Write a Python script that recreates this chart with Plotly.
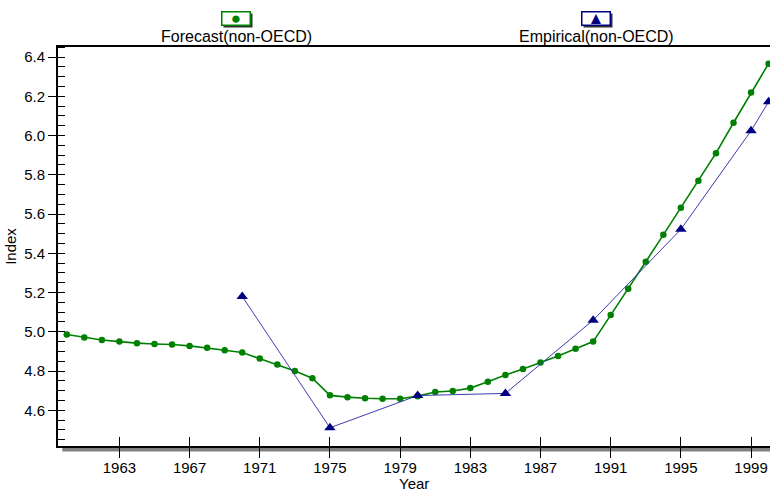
import plotly.graph_objects as go

# ---- data ----
forecast_years = list(range(1960, 2001))
forecast_values = [4.986, 4.971, 4.958, 4.950, 4.942, 4.938, 4.935, 4.928, 4.918, 4.906,
                   4.894, 4.864, 4.833, 4.800, 4.763, 4.676, 4.667, 4.661, 4.659, 4.659,
                   4.672, 4.693, 4.698, 4.713, 4.746, 4.780, 4.810, 4.843, 4.877, 4.914,
                   4.950, 5.085, 5.219, 5.357, 5.494, 5.632, 5.769, 5.910, 6.065, 6.219,
                   6.366]
empirical_years = [1970, 1975, 1980, 1985, 1990, 1995, 1999, 2000]
empirical_values = [5.18, 4.511, 4.675, 4.686, 5.059, 5.522, 6.024, 6.172]
x_ticks = [1963, 1967, 1971, 1975, 1979, 1983, 1987, 1991, 1995, 1999]
y_ticks = [4.6, 4.8, 5.0, 5.2, 5.4, 5.6, 5.8, 6.0, 6.2, 6.4]
series_names = ["Forecast(non-OECD)", "Empirical(non-OECD)"]
x_title = "Year"
y_title = "Index"

GREEN = "#008000"
NAVY = "#000080"
FONT = "Liberation Sans, Arial, sans-serif"

XR = [1959.5, 2000.08]
YR = [4.418, 6.451]

fig = go.Figure()
fig.add_trace(go.Scatter(x=forecast_years, y=forecast_values, mode="lines+markers",
                         name=series_names[0],
                         line=dict(color=GREEN, width=1.6),
                         marker=dict(color=GREEN, size=6.5, symbol="circle")))
fig.add_trace(go.Scatter(x=empirical_years, y=empirical_values, mode="lines+markers",
                         name=series_names[1],
                         line=dict(color="rgb(60,60,175)", width=1),
                         marker=dict(color=NAVY, size=10, symbol="triangle-up")))
# helper (empty) trace for the overlay axes that draw the inner half of major ticks
fig.add_trace(go.Scatter(x=[], y=[], xaxis="x2", yaxis="y2", showlegend=False, hoverinfo="skip"))

fig.update_layout(
    width=770, height=496,
    margin=dict(l=58, r=0, t=47, b=50),
    paper_bgcolor="white", plot_bgcolor="white",
    showlegend=False,
    font=dict(family=FONT, size=15, color="black"),
    xaxis=dict(range=XR, tickmode="array", tickvals=x_ticks, ticks="outside", ticklen=10,
               tickwidth=1, tickcolor="black", showline=True, linecolor="black", linewidth=2,
               mirror=True, showgrid=False, zeroline=False, ticklabelstandoff=-3,
               tickfont=dict(size=15)),
    yaxis=dict(range=YR, tickmode="array", tickvals=y_ticks, ticktext=[f"{v:.1f}" for v in y_ticks],
               ticks="outside", ticklen=8, tickwidth=1, tickcolor="black",
               showline=True, linecolor="black", linewidth=2, showgrid=False, zeroline=False,
               minor=dict(tickmode="linear", tick0=4.4, dtick=0.05, ticks="inside", ticklen=7,
                          tickwidth=1, tickcolor="black", showgrid=False),
               title=dict(text=y_title, standoff=4, font=dict(size=15)),
               tickfont=dict(size=15)),
    xaxis2=dict(range=XR, overlaying="x", anchor="y2", side="bottom", tickmode="array",
                tickvals=x_ticks, ticks="inside", ticklen=9, tickwidth=1, tickcolor="black",
                showticklabels=False, showline=False, showgrid=False, zeroline=False),
    yaxis2=dict(range=YR, overlaying="y", anchor="x2", side="left", tickmode="array",
                tickvals=y_ticks, ticks="inside", ticklen=7, tickwidth=1, tickcolor="black",
                showticklabels=False, showline=False, showgrid=False, zeroline=False),
)

# x axis title
fig.add_annotation(xref="paper", yref="paper", x=0.5, y=-0.094, xanchor="center", yanchor="middle",
                   text=x_title, showarrow=False, font=dict(size=15, color="black"))

# gray shadow under the x axis
fig.add_shape(type="rect", xref="paper", yref="paper", x0=0.006, x1=1.0, y0=-0.0135, y1=-0.002,
              fillcolor="#808080", line=dict(width=0), layer="below")

# custom legend: symbol box above the label
legend_items = [(0.2503, "●", GREEN, series_names[0]), (0.7557, "▲", NAVY, series_names[1])]
for px, sym, col, label in legend_items:
    fig.add_annotation(xref="paper", yref="paper", x=px, y=1.071, xanchor="center", yanchor="middle",
                       text="", showarrow=False, width=28, height=13, bgcolor="#303030",
                       xshift=1.5, yshift=-1.5, borderpad=0)
    fig.add_annotation(xref="paper", yref="paper", x=px, y=1.071, xanchor="center", yanchor="middle",
                       text=sym, showarrow=False, width=27, height=12, bgcolor="white",
                       bordercolor=col, borderwidth=1.5, borderpad=0,
                       font=dict(color=col, size=17))
    fig.add_annotation(xref="paper", yref="paper", x=px, y=1.026, xanchor="center", yanchor="middle",
                       text=label, showarrow=False, font=dict(size=16, color="black"))

fig.write_html("out.html", config={"displayModeBar": False},
               post_script="document.body.style.margin='0';document.body.style.overflow='hidden';")
